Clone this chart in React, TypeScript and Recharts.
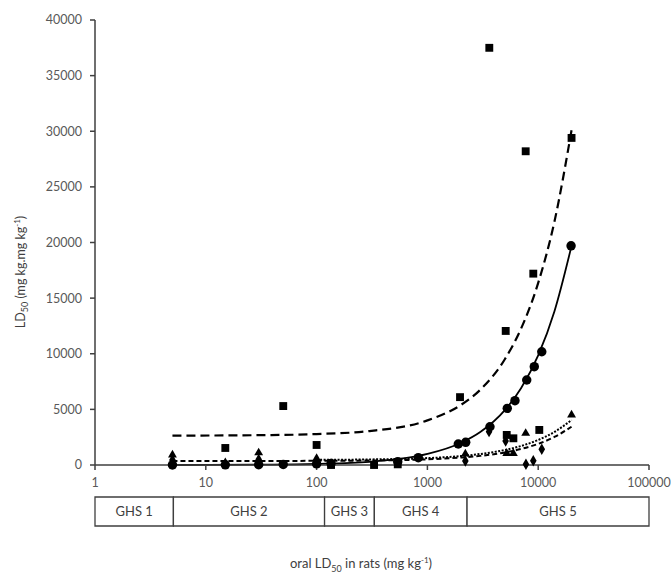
import React from 'react';
import {
  ComposedChart,
  Scatter,
  Line,
  XAxis,
  YAxis,
  ZAxis,
  ReferenceArea,
} from 'recharts';

// axis ticks
const xTicks = [1, 10, 100, 1000, 10000, 100000];
const yTicks = [0, 5000, 10000, 15000, 20000, 25000, 30000, 35000, 40000];

// measured points (x = oral LD50 in rats, y = LD50)
const squarePoints = [
  { x: 15, y: 1530 }, { x: 50, y: 5300 }, { x: 100, y: 1800 },
  { x: 135, y: 0 }, { x: 330, y: 0 }, { x: 540, y: 60 },
  { x: 1970, y: 6100 }, { x: 3620, y: 37500 }, { x: 5090, y: 12050 },
  { x: 5200, y: 2700 }, { x: 5970, y: 2400 }, { x: 7710, y: 28200 },
  { x: 9030, y: 17200 }, { x: 10230, y: 3150 }, { x: 20000, y: 29400 },
];
const circlePoints = [
  { x: 5, y: 5 }, { x: 15, y: 15 }, { x: 30, y: 30 }, { x: 50, y: 50 },
  { x: 100, y: 100 }, { x: 135, y: 135 }, { x: 540, y: 300 },
  { x: 828, y: 660 }, { x: 1900, y: 1890 }, { x: 2217, y: 2040 },
  { x: 3670, y: 3440 }, { x: 5260, y: 5090 }, { x: 6170, y: 5780 },
  { x: 7880, y: 7640 }, { x: 9220, y: 8840 }, { x: 10770, y: 10180 },
  { x: 19800, y: 19700 },
];
const trianglePoints = [
  { x: 5, y: 900 }, { x: 30, y: 1100 }, { x: 100, y: 600 },
  { x: 2200, y: 1000 }, { x: 5200, y: 1050 }, { x: 5970, y: 1050 },
  { x: 7710, y: 2850 }, { x: 20000, y: 4500 },
];
const diamondPoints = [
  { x: 5, y: 450 }, { x: 15, y: 150 }, { x: 30, y: 500 }, { x: 100, y: 300 },
  { x: 2200, y: 360 }, { x: 3600, y: 3000 }, { x: 5080, y: 2150 },
  { x: 7750, y: 60 }, { x: 9030, y: 380 }, { x: 10770, y: 1410 },
];

// trend lines
const squareTrend = [
  { x: 5, y: 2640 }, { x: 30, y: 2680 }, { x: 100, y: 2780 }, { x: 300, y: 3050 },
  { x: 1000, y: 4010 }, { x: 2000, y: 5390 }, { x: 3000, y: 6760 },
  { x: 5000, y: 9510 }, { x: 7000, y: 12250 }, { x: 10000, y: 16370 },
  { x: 14000, y: 21860 }, { x: 20000, y: 30100 },
];
const circleTrend = [
  { x: 5, y: 0 }, { x: 30, y: 30 }, { x: 100, y: 100 }, { x: 300, y: 290 },
  { x: 1000, y: 990 }, { x: 2000, y: 1980 }, { x: 3000, y: 2960 },
  { x: 5000, y: 4930 }, { x: 7000, y: 6900 }, { x: 10000, y: 9850 },
  { x: 14000, y: 13800 }, { x: 20000, y: 19700 },
];
const triangleTrend = [
  { x: 100, y: 460 }, { x: 300, y: 500 }, { x: 1000, y: 620 },
  { x: 2000, y: 800 }, { x: 3000, y: 990 }, { x: 5000, y: 1350 },
  { x: 7000, y: 1710 }, { x: 10000, y: 2250 }, { x: 14000, y: 2970 },
  { x: 20000, y: 4040 },
];
const diamondTrend = [
  { x: 5, y: 360 }, { x: 30, y: 365 }, { x: 100, y: 375 }, { x: 300, y: 405 },
  { x: 1000, y: 510 }, { x: 2000, y: 670 }, { x: 3000, y: 820 },
  { x: 5000, y: 1130 }, { x: 7000, y: 1440 }, { x: 10000, y: 1900 },
  { x: 14000, y: 2520 }, { x: 20000, y: 3440 },
];

// GHS hazard categories under the axis
const ghsNames = ['GHS 1', 'GHS 2', 'GHS 3', 'GHS 4', 'GHS 5'];
const ghsBounds = [1, 5.1, 118, 332, 2280, 100000];

const ghsRows = ghsNames.map((name, i) => ({ name, x: ghsBounds[i], y: 0.5 }));

const axisColor = '#3f3f3f';
const tickStyle = { fill: '#595959', fontSize: 12.5, fontFamily: 'Lato' };

const YLabel = () => (
  <text
    x={25}
    y={272}
    transform="rotate(-90 25 272)"
    textAnchor="middle"
    fill="#404040"
    fontSize={12.5}
    fontFamily="Lato"
  >
    LD<tspan fontSize={9} dy={3}>50</tspan>
    <tspan dy={-3}> (mg kg.mg kg</tspan>
    <tspan fontSize={8} dy={-5}>-1</tspan>
    <tspan dy={5}>)</tspan>
  </text>
);

export default function App() {
  return (
    <div style={{ position: 'absolute', left: 0, top: 0, width: 672, height: 575, background: '#fff' }}>
      <ComposedChart width={672} height={495} margin={{ top: 20, right: 23, left: 35, bottom: 0 }}>
        <XAxis
          dataKey="x"
          type="number"
          scale="log"
          domain={[1, 100000]}
          ticks={xTicks}
          allowDataOverflow
          height={30}
          tickSize={5}
          tickMargin={8}
          tick={tickStyle}
          stroke={axisColor}
          strokeWidth={1.5}
        />
        <YAxis
          type="number"
          domain={[0, 40000]}
          ticks={yTicks}
          width={60}
          tickSize={5}
          tickMargin={8}
          tick={tickStyle}
          stroke={axisColor}
          strokeWidth={1.5}
          label={<YLabel />}
        />
        <ZAxis zAxisId="sq" range={[62, 62]} />
        <ZAxis zAxisId="ci" range={[70, 70]} />
        <ZAxis zAxisId="tr" range={[34, 34]} />
        <ZAxis zAxisId="di" range={[38, 38]} />

        <Line data={squareTrend} dataKey="y" type="monotone" stroke="#000" strokeWidth={2.2}
          strokeDasharray="9 5" dot={false} activeDot={false} isAnimationActive={false} />
        <Line data={circleTrend} dataKey="y" type="monotone" stroke="#000" strokeWidth={1.8}
          dot={false} activeDot={false} isAnimationActive={false} />
        <Line data={triangleTrend} dataKey="y" type="monotone" stroke="#000" strokeWidth={2}
          strokeDasharray="2 1.5" dot={false} activeDot={false} isAnimationActive={false} />
        <Line data={diamondTrend} dataKey="y" type="monotone" stroke="#000" strokeWidth={2}
          strokeDasharray="5 3" dot={false} activeDot={false} isAnimationActive={false} />

        <Scatter data={squarePoints} dataKey="y" zAxisId="sq" shape="square" fill="#000" isAnimationActive={false} />
        <Scatter data={circlePoints} dataKey="y" zAxisId="ci" shape="circle" fill="#000" isAnimationActive={false} />
        <Scatter data={trianglePoints} dataKey="y" zAxisId="tr" shape="triangle" fill="#000" isAnimationActive={false} />
        <Scatter data={diamondPoints} dataKey="y" zAxisId="di" shape="diamond" fill="#000" isAnimationActive={false} />
      </ComposedChart>

      <div style={{ position: 'absolute', left: 0, top: 496 }}>
        <ComposedChart
          width={672}
          height={31}
          data={ghsRows}
          margin={{ top: 1, right: 23, left: 95, bottom: 1 }}
        >
          <XAxis type="number" dataKey="x" scale="log" domain={[1, 100000]} allowDataOverflow hide />
          <YAxis type="number" dataKey="y" domain={[0, 1]} allowDataOverflow hide />
          {ghsNames.map((name, i) => (
            <ReferenceArea
              key={name}
              x1={ghsBounds[i]}
              x2={ghsBounds[i + 1]}
              y1={0}
              y2={1}
              ifOverflow="visible"
              fill="#fff"
              fillOpacity={1}
              stroke="#3f3f3f"
              strokeWidth={1.3}
              label={{ value: name, position: 'center', fill: '#404040', fontSize: 13, fontFamily: 'Lato' }}
            />
          ))}
        </ComposedChart>
      </div>

      <div
        style={{
          position: 'absolute',
          left: 0,
          width: 722,
          top: 555,
          textAlign: 'center',
          fontFamily: 'Lato',
          fontSize: 13,
          color: '#404040',
        }}
      >
        oral LD<sub style={{ fontSize: 9 }}>50</sub> in rats (mg kg<sup style={{ fontSize: 8 }}>-1</sup>)
      </div>
    </div>
  );
}
